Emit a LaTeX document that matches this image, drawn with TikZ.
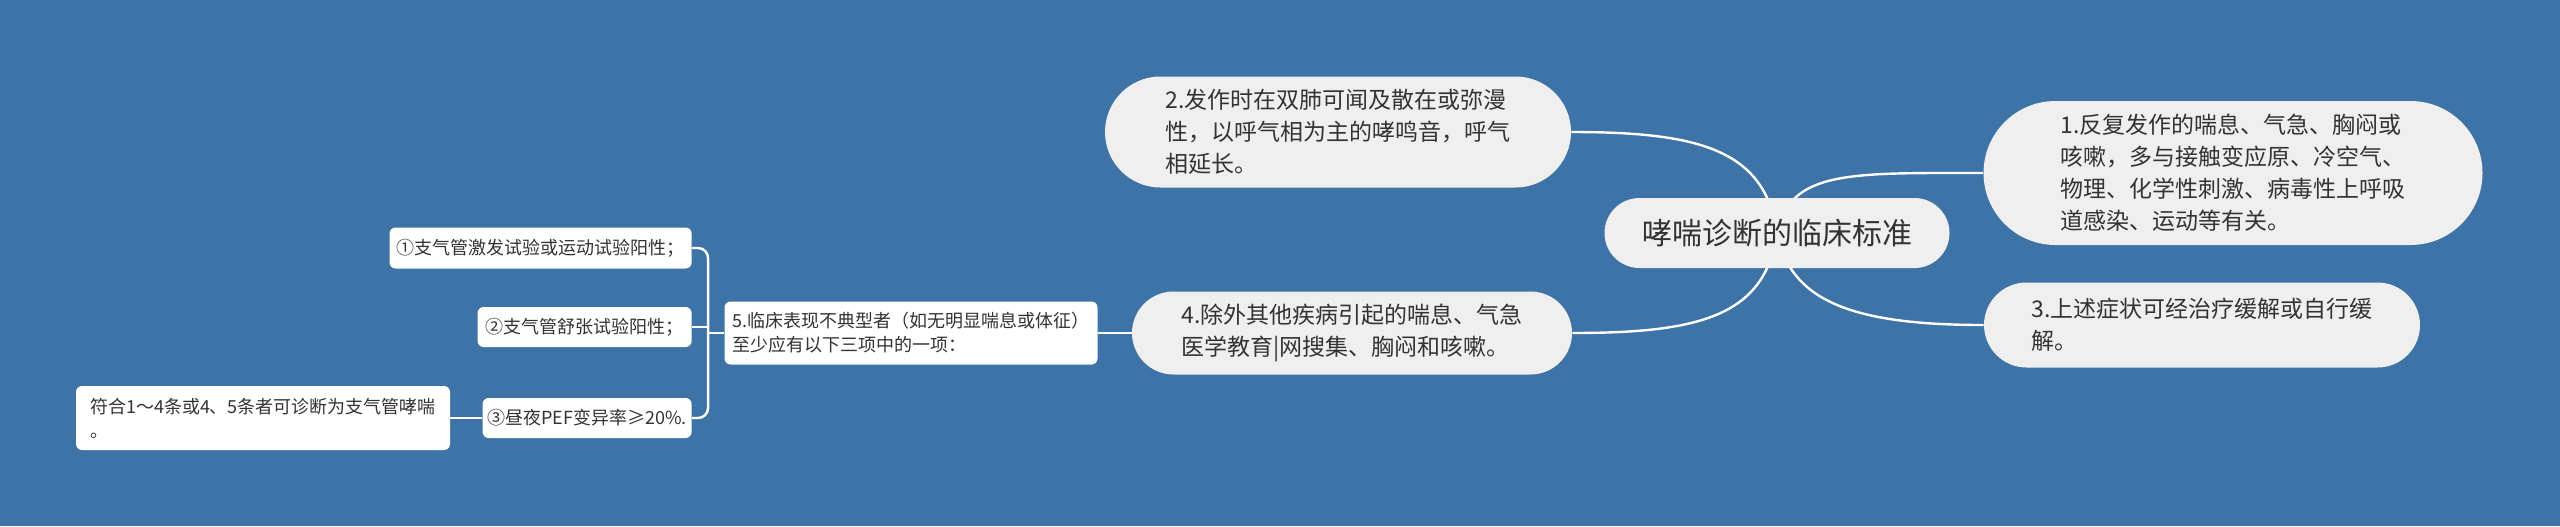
\documentclass[tikz,border=0pt]{standalone}
\usepackage{fontspec}
\setmainfont{Noto Sans CJK SC}
\usepackage{xcolor}
\usetikzlibrary{shapes.misc,calc,positioning}
\definecolor{bgblue}{HTML}{3D73A6}
\definecolor{pillgray}{HTML}{EFEFEF}
\definecolor{txtgray}{HTML}{333333}
\pgfdeclarelayer{back}
\pgfdeclarelayer{edges}
\pgfsetlayers{back,edges,main}
\tikzset{
  topic/.style={rounded rectangle, fill=pillgray, text=txtgray, align=left, inner sep=0pt},
  roottopic/.style={topic, minimum width=172.5pt, minimum height=35pt, font=\fontsize{15}{18}\selectfont},
  maintopic/.style={topic, font=\fontsize{11.5}{16}\selectfont},
  subtopic/.style={rectangle, rounded corners=3pt, fill=white, text=txtgray, align=left, inner sep=0pt, font=\fontsize{9}{12}\selectfont},
  link/.style={draw=white, line width=1.2pt}
}

\begin{document}
\begin{tikzpicture}[x=0.5pt, y=-0.5pt]
  \useasboundingbox (0,0) rectangle (2560,526);
  \begin{pgfonlayer}{back}
    \fill[bgblue] (0,0) rectangle (2560,526);
  \end{pgfonlayer}

  % Nodes
  \node[roottopic] (root) at (1777,233) {哮喘诊断的临床标准};
  \node[maintopic, minimum width=249.5pt, minimum height=72pt] (n1) at (2233,173)
    {1.反复发作的喘息、气急、胸闷或\\咳嗽，多与接触变应原、冷空气、\\物理、化学性刺激、病毒性上呼吸\\道感染、运动等有关。};
  \node[maintopic, minimum width=233pt, minimum height=55.5pt] (n2) at (1338,132)
    {2.发作时在双肺可闻及散在或弥漫\\性，以呼气相为主的哮鸣音，呼气\\相延长。};
  \node[maintopic, minimum width=218pt, minimum height=42.5pt] (n3) at (2202,325)
    {3.上述症状可经治疗缓解或自行缓\\解。};
  \node[maintopic, minimum width=220pt, minimum height=41.5pt] (n4) at (1352,333)
    {4.除外其他疾病引起的喘息、气急\\医学教育|网搜集、胸闷和咳嗽。};
  \node[subtopic, minimum width=186.5pt, minimum height=31.5pt] (n5) at (911,333)
    {5.临床表现不典型者（如无明显喘息或体征）\\至少应有以下三项中的一项：};
  \node[subtopic, minimum width=151pt, minimum height=20.5pt, anchor=east] (c1) at (692,248)
    {①支气管激发试验或运动试验阳性；};
  \node[subtopic, minimum width=107pt, minimum height=20pt, anchor=east] (c2) at (692,327)
    {②支气管舒张试验阳性；};
  \node[subtopic, minimum width=104.5pt, minimum height=20pt, anchor=east] (c3) at (692,418)
    {③昼夜PEF变异率≥20\%.};
  \node[subtopic, minimum width=187pt, minimum height=32pt] (fin) at (263,418)
    {符合1～4条或4、5条者可诊断为支气管哮喘\\。};
  \coordinate (bus) at ($(c1.east)!0.5!(n5.west)$);

  % Lines
  \begin{pgfonlayer}{edges}
    \draw[link] (root.center) .. controls (1765,150) and (1700,132) .. (n2.east);
    \draw[link] (root.center) .. controls (1765,316) and (1700,333) .. (n4.east);
    \draw[link] (root.center) .. controls (1790,170) and (1850,173) .. (n1.west);
    \draw[link] (root.center) .. controls (1790,300) and (1850,325) .. (n3.west);
    \draw[link] (n4.west) -- (n5.east);
    \draw[link, rounded corners=5pt] (c1.east) -| (bus |- c3.east) -- (c3.east);
    \draw[link] (c2.east) -- (bus |- c2.east);
    \draw[link] (n5.west) -- (bus |- n5.west);
    \draw[link] (c3.west) -- (fin.east);
  \end{pgfonlayer}
\end{tikzpicture}
\end{document}
